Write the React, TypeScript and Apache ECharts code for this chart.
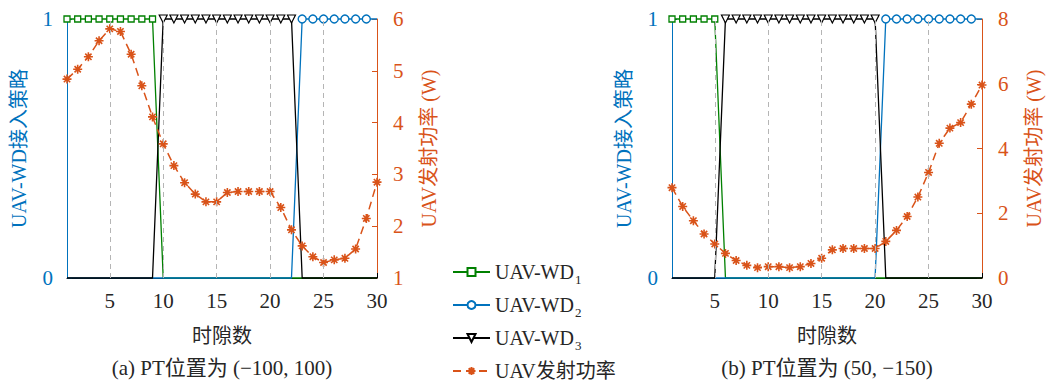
import React, { useEffect, useRef } from 'react';
import * as echarts from 'echarts';

const slots = [1, 2, 3, 4, 5, 6, 7, 8, 9, 10, 11, 12, 13, 14, 15, 16, 17, 18, 19, 20, 21, 22, 23, 24, 25, 26, 27, 28, 29, 30];
const xTickValues = [5, 10, 15, 20, 25, 30];
const gridDashes = [5, 10, 15, 20, 25];

// (a) PT at (-100, 100)
const wd1A = [1, 1, 1, 1, 1, 1, 1, 1, 1, 0, 0, 0, 0, 0, 0, 0, 0, 0, 0, 0, 0, 0, 0, 0, 0, 0, 0, 0, 0, 0];
const wd2A = [0, 0, 0, 0, 0, 0, 0, 0, 0, 0, 0, 0, 0, 0, 0, 0, 0, 0, 0, 0, 0, 0, 1, 1, 1, 1, 1, 1, 1, 1];
const wd3A = [0, 0, 0, 0, 0, 0, 0, 0, 0, 1, 1, 1, 1, 1, 1, 1, 1, 1, 1, 1, 1, 1, 0, 0, 0, 0, 0, 0, 0, 0];
const powerA = [4.84, 5.03, 5.27, 5.58, 5.81, 5.76, 5.32, 4.71, 4.11, 3.59, 3.17, 2.84, 2.62, 2.47, 2.47, 2.65, 2.67, 2.67, 2.67, 2.67, 2.36, 1.93, 1.62, 1.41, 1.3, 1.35, 1.38, 1.56, 2.15, 2.85];

// (b) PT at (50, -150)
const wd1B = [1, 1, 1, 1, 1, 0, 0, 0, 0, 0, 0, 0, 0, 0, 0, 0, 0, 0, 0, 0, 0, 0, 0, 0, 0, 0, 0, 0, 0, 0];
const wd2B = [0, 0, 0, 0, 0, 0, 0, 0, 0, 0, 0, 0, 0, 0, 0, 0, 0, 0, 0, 0, 1, 1, 1, 1, 1, 1, 1, 1, 1, 1];
const wd3B = [0, 0, 0, 0, 0, 1, 1, 1, 1, 1, 1, 1, 1, 1, 1, 1, 1, 1, 1, 1, 0, 0, 0, 0, 0, 0, 0, 0, 0, 0];
const powerB = [2.79, 2.21, 1.77, 1.36, 1.05, 0.76, 0.54, 0.39, 0.32, 0.35, 0.35, 0.32, 0.35, 0.45, 0.61, 0.87, 0.91, 0.91, 0.91, 0.91, 1.13, 1.47, 1.9, 2.5, 3.26, 4.16, 4.63, 4.8, 5.37, 5.96];

const names = ['UAV-WD1', 'UAV-WD2', 'UAV-WD3', 'UAV发射功率'];
const captions = ['(a) PT位置为 (−100, 100)', '(b) PT位置为 (50, −150)'];

const FONT = '"Liberation Serif", "Noto Sans CJK SC", serif';
const TEXT = '#262626';
const BLUE = '#0072BD';
const ORANGE = '#D95319';
const GREEN = '#008000';
const BLACK = '#000000';
const STAR = 'path://M0,-10L0,10M-10,0L10,0M-7,-7L7,7M-7,7L7,-7';

const GRIDS = [
  { left: 67, top: 19, width: 310, height: 259 },
  { left: 672, top: 19, width: 310, height: 259 },
];

function binaryData(vals: number[]) {
  return vals.map((v, i) => {
    const hideMarker = v === 0 || slots[i] === 30;
    return hideMarker ? { value: [slots[i], v], symbol: 'none' } : { value: [slots[i], v] };
  });
}

function buildSeries(g: number, wd1: number[], wd2: number[], wd3: number[], power: number[]) {
  const xi = g;
  const yL = g * 2;
  const yR = g * 2 + 1;
  return [
    {
      type: 'line', name: '__grid' + g, xAxisIndex: xi, yAxisIndex: yL, data: [], z: 1, silent: true,
      markLine: {
        silent: true, symbol: 'none', label: { show: false },
        lineStyle: { type: [5, 4], color: '#b5b5b5', width: 1 },
        data: gridDashes.map((v) => ({ xAxis: v })),
      },
    },
    {
      type: 'line', name: names[0], xAxisIndex: xi, yAxisIndex: yL, z: 3, clip: false,
      data: binaryData(wd1), showAllSymbol: true, symbol: 'rect', symbolSize: 6,
      lineStyle: { color: GREEN, width: 1.3 },
      itemStyle: { color: '#ffffff', borderColor: GREEN, borderWidth: 1.3 },
    },
    {
      type: 'line', name: names[1], xAxisIndex: xi, yAxisIndex: yL, z: 3, clip: false,
      data: binaryData(wd2), showAllSymbol: true, symbol: 'circle', symbolSize: 8,
      lineStyle: { color: BLUE, width: 1.3 },
      itemStyle: { color: '#ffffff', borderColor: BLUE, borderWidth: 1.4 },
    },
    {
      type: 'line', name: names[2], xAxisIndex: xi, yAxisIndex: yL, z: 3, clip: false,
      data: binaryData(wd3), showAllSymbol: true, symbol: 'triangle', symbolRotate: 180, symbolSize: 8,
      lineStyle: { color: BLACK, width: 1.3 },
      itemStyle: { color: '#ffffff', borderColor: BLACK, borderWidth: 1.2 },
    },
    {
      type: 'line', name: names[3], xAxisIndex: xi, yAxisIndex: yR, z: 4, clip: false,
      data: power.map((v, i) => [slots[i], v]), showAllSymbol: true, symbol: STAR, symbolSize: 9,
      lineStyle: { color: ORANGE, width: 1.5, type: [8, 5] },
      itemStyle: { color: ORANGE, borderColor: ORANGE, borderWidth: 1.6 },
    },
  ];
}

function xAxisFor(g: number) {
  return {
    type: 'value', gridIndex: g, min: 1, max: 30,
    axisLine: { show: true, lineStyle: { color: BLACK, width: 1 } },
    axisTick: { show: true, inside: true, length: 5, customValues: xTickValues, lineStyle: { color: BLACK } },
    axisLabel: { customValues: xTickValues, fontSize: 21, color: TEXT, fontFamily: FONT, margin: 12 },
    splitLine: { show: false },
    name: '时隙数', nameLocation: 'middle', nameGap: 48,
    nameTextStyle: { fontSize: 20, color: TEXT, fontFamily: FONT },
  };
}

function leftY(g: number) {
  return {
    type: 'value', gridIndex: g, position: 'left', min: 0, max: 1, interval: 1,
    axisLine: { show: true, lineStyle: { color: BLUE, width: 1 } },
    axisTick: { show: true, inside: true, length: 5, lineStyle: { color: BLUE } },
    axisLabel: { fontSize: 21, color: BLUE, fontFamily: FONT, margin: 14 },
    splitLine: { show: false },
    name: 'UAV-WD接入策略', nameLocation: 'middle', nameRotate: 90, nameGap: 38,
    nameTextStyle: { fontSize: 20, color: BLUE, fontFamily: FONT },
  };
}

function rightY(g: number, min: number, max: number, interval: number) {
  return {
    type: 'value', gridIndex: g, position: 'right', min, max, interval,
    axisLine: { show: true, lineStyle: { color: ORANGE, width: 1 } },
    axisTick: { show: true, inside: true, length: 5, lineStyle: { color: ORANGE } },
    axisLabel: { fontSize: 21, color: ORANGE, fontFamily: FONT, margin: 16 },
    splitLine: { show: false },
    name: 'UAV发射功率 (W)', nameLocation: 'middle', nameRotate: 90, nameGap: 42,
    nameTextStyle: { fontSize: 20, color: ORANGE, fontFamily: FONT },
  };
}

export default function App() {
  const ref = useRef<HTMLDivElement>(null);
  useEffect(() => {
    if (!ref.current) return;
    const chart = echarts.init(ref.current, null, { renderer: 'svg' });
    const option: any = {
      animation: false,
      backgroundColor: '#ffffff',
      grid: GRIDS.map((g) => ({ ...g, containLabel: false })),
      xAxis: [xAxisFor(0), xAxisFor(1)],
      yAxis: [leftY(0), rightY(0, 1, 6, 1), leftY(1), rightY(1, 0, 8, 2)],
      legend: {
        orient: 'vertical', left: 452, top: 258, padding: 0, itemWidth: 37, itemHeight: 10, itemGap: 5,
        data: names,
        formatter: (n: string) =>
          n.startsWith('UAV-WD') ? '{m|UAV-WD}{s|' + n.slice(6) + '}' : '{m|' + n + '}{s| }',
        textStyle: {
          fontSize: 20, color: TEXT, fontFamily: FONT,
          rich: {
            m: { fontSize: 20, lineHeight: 22, fontFamily: FONT, color: TEXT },
            s: { fontSize: 13, lineHeight: 13, fontFamily: FONT, color: TEXT, padding: [15, 0, 0, 1] },
          },
        },
      },
      graphic: captions.map((c, i) => ({
        type: 'text', x: GRIDS[i].left + GRIDS[i].width / 2, y: 368,
        style: { text: c, fontSize: 21, fontFamily: FONT, fill: TEXT, align: 'center', verticalAlign: 'middle' },
      })),
      series: [
        ...buildSeries(0, wd1A, wd2A, wd3A, powerA),
        ...buildSeries(1, wd1B, wd2B, wd3B, powerB),
      ],
    };
    chart.setOption(option);
    return () => chart.dispose();
  }, []);
  return <div ref={ref} style={{ position: 'fixed', left: 0, top: 0, width: 1046, height: 386 }} />;
}
